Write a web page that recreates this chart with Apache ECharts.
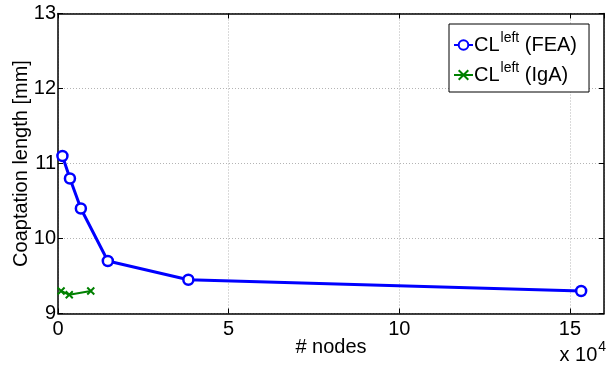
<!DOCTYPE html>
<html>
<head>
<meta charset="utf-8">
<script src="https://cdn.jsdelivr.net/npm/echarts@6/dist/echarts.min.js"></script>
<style>
  html, body { margin: 0; padding: 0; background: #fff; }
  #chart { width: 606px; height: 371px; }
</style>
</head>
<body>
<div id="chart"></div>
<script>
// Node counts in units of 10^4
const feaNodes = [0.13, 0.35, 0.67, 1.46, 3.82, 15.33];
const feaLength = [11.1, 10.8, 10.4, 9.7, 9.45, 9.3];

const igaNodes = [0.09, 0.33, 0.96];
const igaLength = [9.3, 9.25, 9.3];

const xTicks = [0, 5, 10, 15];
const yTicks = [9, 10, 11, 12, 13];

const FONT = 'Liberation Sans, Arial, sans-serif';

const chart = echarts.init(document.getElementById('chart'), null, { renderer: 'canvas' });

const pairs = (xs, ys) => xs.map((x, i) => [x, ys[i]]);

const crossSymbol = 'path://M0,0L10,10M10,0L0,10';

// top/right axes only close the box and carry inward ticks
const frameAxisBase = {
  axisLine: { show: true, onZero: false, lineStyle: { color: '#000', width: 1.5 } },
  axisTick: { show: true, inside: true, length: 5, lineStyle: { color: '#000', width: 1 } },
  splitLine: { show: false },
  axisLabel: { show: false }
};

const gridLine = { show: true, lineStyle: { color: '#b4b4b4', type: [1, 2], width: 1 } };

chart.setOption({
  animation: false,
  backgroundColor: '#fff',
  grid: {
    left: 58, right: 2, top: 13.5, bottom: 57.5,
    containLabel: false,
    outerBoundsMode: 'none'
  },
  xAxis: [
    {
      type: 'value',
      min: 0, max: 16, interval: 5,
      position: 'bottom',
      name: '# nodes',
      nameLocation: 'middle',
      nameGap: 34,
      nameMoveOverlap: false,
      nameTextStyle: { fontFamily: FONT, fontSize: 20, color: '#000', verticalAlign: 'middle' },
      axisLine: { show: true, onZero: false, lineStyle: { color: '#000', width: 1.5 } },
      axisTick: { show: true, inside: true, length: 5, lineStyle: { color: '#000' } },
      axisLabel: {
        fontFamily: FONT, fontSize: 20, color: '#000', margin: 6,
        showMaxLabel: false,
        formatter: v => (xTicks.includes(v) ? String(v) : '')
      },
      splitLine: gridLine
    },
    Object.assign({ type: 'value', min: 0, max: 16, interval: 5, position: 'top' }, frameAxisBase)
  ],
  yAxis: [
    {
      type: 'value',
      min: 9, max: 13, interval: 1,
      position: 'left',
      name: 'Coaptation length [mm]',
      nameLocation: 'middle',
      nameGap: 37,
      nameMoveOverlap: false,
      nameTextStyle: { fontFamily: FONT, fontSize: 20, color: '#000', verticalAlign: 'middle' },
      axisLine: { show: true, onZero: false, lineStyle: { color: '#000', width: 1.5 } },
      axisTick: { show: true, inside: true, length: 5, lineStyle: { color: '#000' } },
      axisLabel: {
        fontFamily: FONT, fontSize: 20, color: '#000', margin: 2,
        formatter: v => (yTicks.includes(v) ? String(v) : '')
      },
      splitLine: gridLine
    },
    Object.assign({ type: 'value', min: 9, max: 13, interval: 1, position: 'right' }, frameAxisBase)
  ],
  legend: {
    orient: 'vertical',
    left: 449,
    top: 24,
    padding: [7, 12, 7, 4],
    itemGap: 6,
    itemWidth: 19,
    itemHeight: 12,
    backgroundColor: '#fff',
    borderColor: '#000',
    borderWidth: 1,
    data: ['CL left (FEA)', 'CL left (IgA)'],
    formatter: name => {
      const tail = name.replace('CL left ', '');
      return '{m|CL}{s|left}{m| ' + tail + '}';
    },
    textStyle: {
      fontFamily: FONT,
      color: '#000',
      padding: [0, 0, 0, -4],
      rich: {
        m: { fontFamily: FONT, fontSize: 20, color: '#000', lineHeight: 28, verticalAlign: 'middle' },
        s: { fontFamily: FONT, fontSize: 14, color: '#000', lineHeight: 14, verticalAlign: 'top', padding: [0, 0, 0, 1] }
      }
    }
  },
  graphic: [
    {
      type: 'text',
      left: 559.5,
      top: 340.5,
      style: {
        text: '{m|x 10}{s|4}',
        rich: {
          m: { fontFamily: FONT, fontSize: 20, fill: '#000', lineHeight: 30, verticalAlign: 'middle' },
          s: { fontFamily: FONT, fontSize: 14, fill: '#000', lineHeight: 14, verticalAlign: 'top', padding: [0, 0, 0, 1] }
        }
      }
    }
  ],
  series: [
    {
      name: 'CL left (FEA)',
      type: 'line',
      data: pairs(feaNodes, feaLength),
      xAxisIndex: 0, yAxisIndex: 0,
      symbol: 'circle',
      symbolSize: 10,
      showAllSymbol: true,
      lineStyle: { color: '#0000ff', width: 3 },
      itemStyle: { color: '#fff', borderColor: '#0000ff', borderWidth: 2.5 },
      emphasis: { disabled: true }
    },
    {
      name: 'CL left (IgA)',
      type: 'line',
      data: pairs(igaNodes, igaLength),
      xAxisIndex: 0, yAxisIndex: 0,
      symbol: crossSymbol,
      symbolSize: 7,
      showAllSymbol: true,
      lineStyle: { color: '#008000', width: 2 },
      itemStyle: { color: '#008000', borderColor: '#008000', borderWidth: 2 },
      emphasis: { disabled: true }
    }
  ]
});
</script>
</body>
</html>
